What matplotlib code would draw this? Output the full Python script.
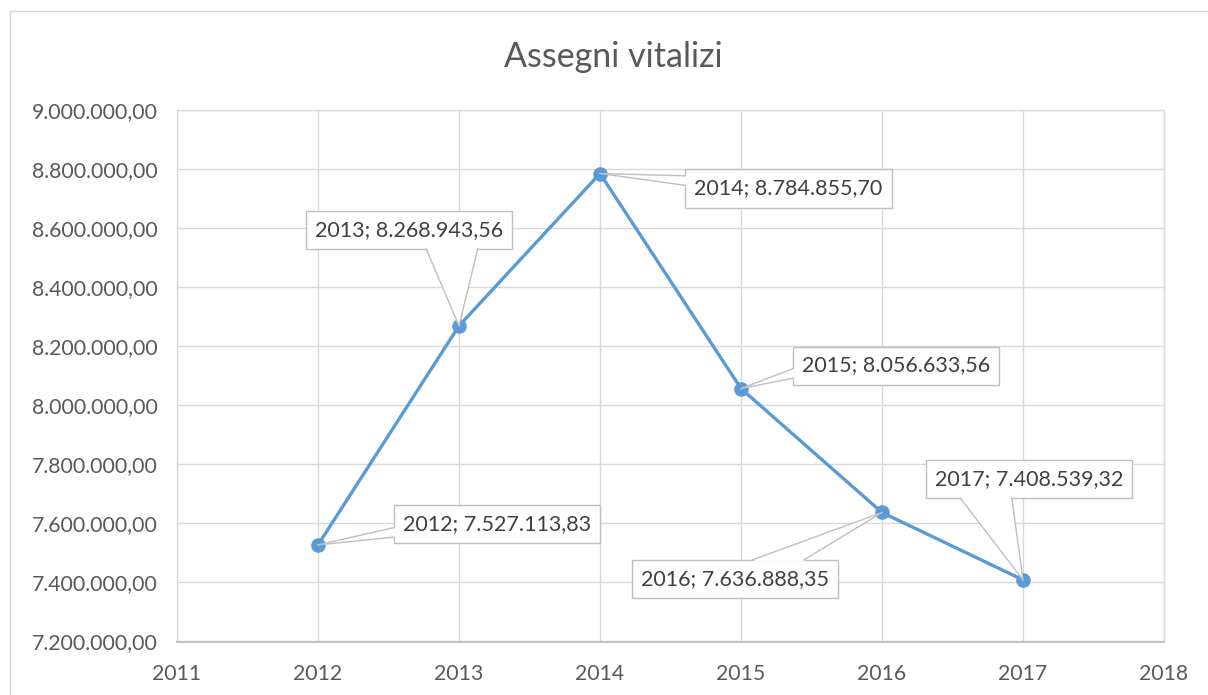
import matplotlib
matplotlib.use('Agg')
import matplotlib.pyplot as plt
from matplotlib.patches import Polygon, Rectangle
from matplotlib.lines import Line2D
from matplotlib.transforms import IdentityTransform
from matplotlib.ticker import FuncFormatter, MultipleLocator

plt.rcParams['font.family'] = ['Lato', 'DejaVu Sans']

# ---- data ----
title = "Assegni vitalizi"
years = [2012, 2013, 2014, 2015, 2016, 2017]
values = [7527113.83, 8268943.56, 8784855.70, 8056633.56, 7636888.35, 7408539.32]
# label box centre offsets from the point (pixels, y up)
label_offsets = [(179, 20.5), (-50, 96), (188.5, -15), (155, 23), (-147, -66.5), (6, 101)]

LINE_C = '#5B9BD5'
GRID_C = '#D9D9D9'
AXIS_C = '#BFBFBF'
TEXT_C = '#595959'
LABEL_C = '#404040'


def it_fmt(v, dec=2):
    s = f"{v:,.{dec}f}"
    return s.replace(',', 'X').replace('.', ',').replace('X', '.')


W, H = 1208, 695
fig = plt.figure(figsize=(W / 100, H / 100), dpi=100)
fig.patch.set_facecolor('white')

# outer chart border
fig.add_artist(Rectangle((10 / W, -0.2), 1.2, (H - 11) / H + 0.2, transform=fig.transFigure,
                         fill=False, edgecolor=GRID_C, lw=1.0))

left, right, top, bottom = 177, 1164, 110, 641.5
ax = fig.add_axes([left / W, 1 - bottom / H, (right - left) / W, (bottom - top) / H])

ax.plot(years, values, color=LINE_C, lw=2.4, marker='o', ms=9.5,
        markerfacecolor=LINE_C, markeredgecolor=LINE_C, zorder=3, solid_capstyle='round')

ax.set_xlim(2011, 2018)
ax.set_ylim(7200000, 9000000)
ax.xaxis.set_major_locator(MultipleLocator(1))
ax.yaxis.set_major_locator(MultipleLocator(200000))
ax.xaxis.set_major_formatter(FuncFormatter(lambda v, p: f"{int(round(v))}"))
ax.yaxis.set_major_formatter(FuncFormatter(lambda v, p: it_fmt(v)))
ax.grid(True, color=GRID_C, lw=1.0)
ax.set_axisbelow(True)
for s in ['left', 'top', 'right']:
    ax.spines[s].set_color(GRID_C)
    ax.spines[s].set_linewidth(1.0)
ax.spines['bottom'].set_color(AXIS_C)
ax.spines['bottom'].set_linewidth(1.3)
ax.tick_params(axis='both', length=0, labelsize=15.3, labelcolor=TEXT_C)
ax.tick_params(axis='y', pad=14)
ax.tick_params(axis='x', pad=16)

fig.text(613.5 / W, 1 - 57 / H, title, ha='center', va='center',
         fontsize=24.5, color=TEXT_C)

# ---- callout labels ----
texts = []
for x, y, (dx, dy) in zip(years, values, label_offsets):
    t = ax.annotate(f"{x}; {it_fmt(y)}", xy=(x, y), xytext=(dx, dy),
                    textcoords='offset pixels', ha='center', va='center',
                    fontsize=15.5, color=LABEL_C, zorder=2.5,
                    bbox=dict(boxstyle='square,pad=0.42', fc='white', ec=AXIS_C, lw=1.0))
    texts.append(t)

fig.canvas.draw()
renderer = fig.canvas.get_renderer()
ident = IdentityTransform()
for t, x, y in zip(texts, years, values):
    bb = t.get_bbox_patch().get_window_extent(renderer)
    px, py = ax.transData.transform((x, y))
    cx, cy = (bb.x0 + bb.x1) / 2, (bb.y0 + bb.y1) / 2
    w, h = bb.width, bb.height
    rx, ry = (px - cx) / w, (py - cy) / h
    inset = 1.5
    if abs(rx) > abs(ry):
        # left or right side; fractions measured from top
        xs = bb.x0 if rx < 0 else bb.x1
        xi = xs + inset if rx < 0 else xs - inset
        f1, f2 = ((7 / 12, 10 / 12) if py < cy else (2 / 12, 5 / 12))
        b1 = (xs, bb.y1 - f1 * h)
        b2 = (xs, bb.y1 - f2 * h)
        i1 = (xi, b1[1])
        i2 = (xi, b2[1])
    else:
        ys = bb.y0 if ry < 0 else bb.y1
        yi = ys + inset if ry < 0 else ys - inset
        f1, f2 = ((2 / 12, 5 / 12) if px < cx else (7 / 12, 10 / 12))
        b1 = (bb.x0 + f1 * w, ys)
        b2 = (bb.x0 + f2 * w, ys)
        i1 = (b1[0], yi)
        i2 = (b2[0], yi)
    fig.add_artist(Polygon([i1, (px, py), i2], closed=True, transform=ident,
                           fc='white', ec='none', zorder=2.6))
    for b in (b1, b2):
        fig.add_artist(Line2D([b[0], px], [b[1], py], transform=ident,
                              color=AXIS_C, lw=1.0, zorder=4))

fig.savefig('out.png', dpi=100, facecolor='white')
